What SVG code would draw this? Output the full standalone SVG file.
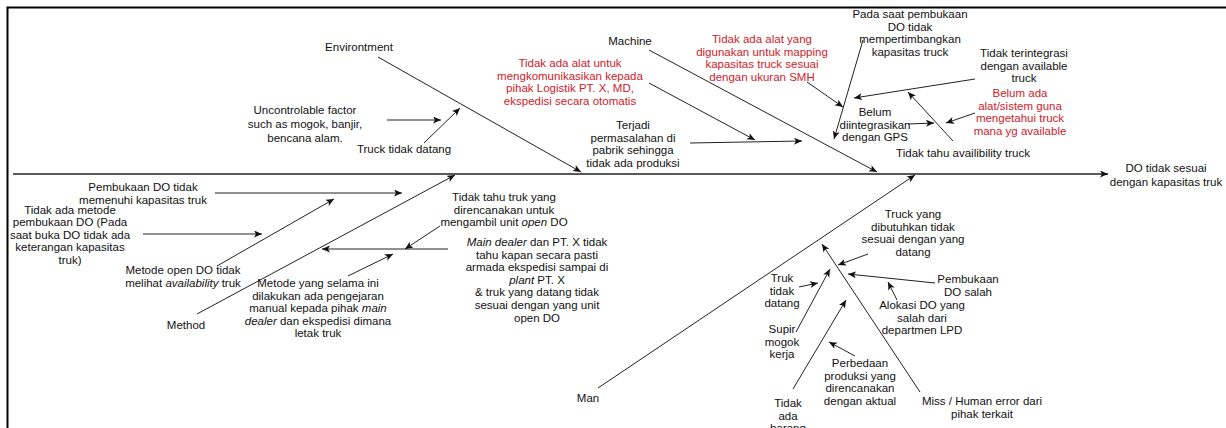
<svg xmlns="http://www.w3.org/2000/svg" width="1226" height="428" viewBox="0 0 1226 428">
<defs>
<marker id="ah" markerUnits="userSpaceOnUse" markerWidth="9" markerHeight="8" refX="8" refY="3.5" orient="auto">
<path d="M0,0 L8,3.5 L0,7 L2,3.5 z" fill="#111"/>
</marker>
<style>
text{font-family:"Liberation Sans",Arial,sans-serif;font-size:11.5px;fill:#111;text-anchor:middle}
.red{fill:#d0202a}
.it{font-style:italic}
.c line{stroke:#222;stroke-width:1;fill:none;marker-end:url(#ah)}
.c line.spine{stroke-width:1.3}
.frame{stroke:#000;stroke-width:2;fill:none}
</style>
</defs>
<rect width="1226" height="428" fill="#fff"/>
<path class="frame" d="M7.5,428 L7.5,7.5 L1226,7.5"/>

<g class="c" id="connectors">
<line class="spine" x1="13" y1="174" x2="1108" y2="174"/>
<line x1="378" y1="57" x2="581" y2="172"/>
<line x1="649" y1="50" x2="877" y2="172"/>
<line x1="197" y1="314" x2="455" y2="175"/>
<line x1="598" y1="388" x2="915" y2="175"/>
<line x1="387" y1="120" x2="441" y2="120"/>
<line x1="424" y1="143" x2="460" y2="108"/>
<line x1="649" y1="83" x2="755" y2="140"/>
<line x1="690" y1="143" x2="802" y2="141"/>
<line x1="807" y1="82" x2="843" y2="107"/>
<line x1="863" y1="40" x2="834" y2="139"/>
<line x1="908" y1="124" x2="934" y2="123"/>
<line x1="975" y1="79" x2="854" y2="98"/>
<line x1="953" y1="141" x2="908" y2="92"/>
<line x1="975" y1="113" x2="946" y2="123"/>
<line x1="215" y1="193" x2="402" y2="193"/>
<line x1="143" y1="234" x2="262" y2="234"/>
<line x1="217" y1="266" x2="334" y2="199"/>
<line x1="448" y1="249" x2="322" y2="249"/>
<line x1="440" y1="226" x2="405" y2="249"/>
<line x1="348" y1="276" x2="393" y2="254"/>
<line x1="868" y1="254" x2="838" y2="265"/>
<line x1="920" y1="392" x2="822" y2="244"/>
<line x1="935" y1="283" x2="848" y2="274"/>
<line x1="897" y1="300" x2="888" y2="282"/>
<line x1="799" y1="287" x2="818" y2="283"/>
<line x1="796" y1="332" x2="830" y2="269"/>
<line x1="855" y1="356" x2="829" y2="342"/>
<line x1="793" y1="389" x2="846" y2="300"/>
</g>

<g id="effect"><text x="1166" y="172">DO tidak sesuai<tspan x="1166" dy="13.6">dengan kapasitas truk</tspan></text></g>
<g id="cat-environment"><text x="359" y="51">Environtment</text></g>
<g id="cat-machine"><text x="630" y="45">Machine</text></g>
<g id="cat-method"><text x="186" y="329">Method</text></g>
<g id="cat-man"><text x="588" y="402">Man</text></g>

<g id="env-uncontrolable"><text x="305" y="114">Uncontrolable factor<tspan x="305" dy="14">such as mogok,  banjir,</tspan><tspan x="305" dy="14">bencana alam.</tspan></text></g>
<g id="env-truck-tidak-datang"><text x="404" y="153">Truck tidak datang</text></g>
<g id="env-komunikasi"><text class="red" x="570" y="67">Tidak ada alat untuk<tspan x="570" dy="12.7">mengkomunikasikan kepada</tspan><tspan x="570" dy="12.7">pihak Logistik PT. X, MD,</tspan><tspan x="570" dy="12.7">ekspedisi secara otomatis</tspan></text></g>
<g id="env-terjadi"><text x="633" y="129">Terjadi<tspan x="633" dy="12.6">permasalahan di</tspan><tspan x="633" dy="12.6">pabrik sehingga</tspan><tspan x="633" dy="12.6">tidak ada produksi</tspan></text></g>

<g id="mach-mapping"><text class="red" x="762" y="43">Tidak ada alat yang<tspan x="762" dy="12.6">digunakan untuk mapping</tspan><tspan x="762" dy="12.6">kapasitas truck sesuai</tspan><tspan x="762" dy="12.6">dengan ukuran SMH</tspan></text></g>
<g id="mach-pada-saat"><text x="910" y="18">Pada saat pembukaan<tspan x="910" dy="12.6">DO tidak</tspan><tspan x="910" dy="12.6">mempertimbangkan</tspan><tspan x="910" dy="12.6">kapasitas truck</tspan></text></g>
<g id="mach-gps"><text x="875" y="116">Belum<tspan x="875" dy="12.6">diintegrasikan</tspan><tspan x="875" dy="12.6">dengan GPS</tspan></text></g>
<g id="mach-terintegrasi"><text x="1024" y="57">Tidak terintegrasi<tspan x="1024" dy="12.6">dengan available</tspan><tspan x="1024" dy="12.6">truck</tspan></text></g>
<g id="mach-availibility"><text x="963" y="157">Tidak tahu availibility truck</text></g>
<g id="mach-belum-ada"><text class="red" x="1020" y="97">Belum ada<tspan x="1020" dy="12.6">alat/sistem guna</tspan><tspan x="1020" dy="12.6">mengetahui truck</tspan><tspan x="1020" dy="12.6">mana yg available</tspan></text></g>

<g id="meth-pembukaan"><text x="143" y="191">Pembukaan DO tidak<tspan x="143" dy="12.6">memenuhi kapasitas truk</tspan></text></g>
<g id="meth-tidak-ada-metode"><text x="70" y="214">Tidak ada metode<tspan x="70" dy="12.4">pembukaan DO (Pada</tspan><tspan x="70" dy="12.4">saat buka DO tidak ada</tspan><tspan x="70" dy="12.4">keterangan kapasitas</tspan><tspan x="70" dy="12.4">truk)</tspan></text></g>
<g id="meth-open-do"><text x="183" y="274">Metode open DO tidak<tspan x="183" dy="12.6">melihat <tspan class="it">availability</tspan> truk</tspan></text></g>
<g id="meth-tidak-tahu-truk"><text x="504" y="201">Tidak tahu truk yang<tspan x="504" dy="12.6">direncanakan untuk</tspan><tspan x="504" dy="12.6">mengambil unit <tspan class="it">open</tspan> DO</tspan></text></g>
<g id="meth-selama-ini"><text x="318" y="287">Metode yang selama ini<tspan x="318" dy="12.6">dilakukan ada pengejaran</tspan><tspan x="318" dy="12.6">manual kepada pihak <tspan class="it">main</tspan></tspan><tspan x="318" dy="12.6"><tspan class="it">dealer</tspan> dan ekspedisi dimana</tspan><tspan x="318" dy="12.6">letak truk</tspan></text></g>
<g id="meth-main-dealer"><text x="537" y="246"><tspan class="it">Main dealer</tspan> dan PT. X tidak<tspan x="537" dy="12.6">tahu kapan secara pasti</tspan><tspan x="537" dy="12.6">armada ekspedisi sampai di</tspan><tspan x="537" dy="12.6"><tspan class="it">plant</tspan> PT. X</tspan><tspan x="537" dy="12.6">&amp; truk yang datang tidak</tspan><tspan x="537" dy="12.6">sesuai dengan yang unit</tspan><tspan x="537" dy="12.6">open DO</tspan></text></g>

<g id="man-dibutuhkan"><text x="913" y="218">Truck yang<tspan x="913" dy="12.6">dibutuhkan tidak</tspan><tspan x="913" dy="12.6">sesuai dengan yang</tspan><tspan x="913" dy="12.6">datang</tspan></text></g>
<g id="man-miss"><text x="982" y="405">Miss / Human error dari<tspan x="982" dy="12.6">pihak terkait</tspan></text></g>
<g id="man-pembukaan-salah"><text x="968" y="283">Pembukaan<tspan x="968" dy="12.6">DO salah</tspan></text></g>
<g id="man-alokasi"><text x="922" y="309">Alokasi DO yang<tspan x="922" dy="12.6">salah dari</tspan><tspan x="922" dy="12.6">departmen LPD</tspan></text></g>
<g id="man-truk-tidak-datang"><text x="782" y="282">Truk<tspan x="782" dy="12.6">tidak</tspan><tspan x="782" dy="12.6">datang</tspan></text></g>
<g id="man-supir"><text x="782" y="333">Supir<tspan x="782" dy="12.6">mogok</tspan><tspan x="782" dy="12.6">kerja</tspan></text></g>
<g id="man-perbedaan"><text x="860" y="367">Perbedaan<tspan x="860" dy="12.6">produksi yang</tspan><tspan x="860" dy="12.6">direncanakan</tspan><tspan x="860" dy="12.6">dengan aktual</tspan></text></g>
<g id="man-tidak-ada-barang"><text x="788" y="407">Tidak<tspan x="788" dy="12.6">ada</tspan><tspan x="788" dy="12.6">barang</tspan></text></g>
</svg>
